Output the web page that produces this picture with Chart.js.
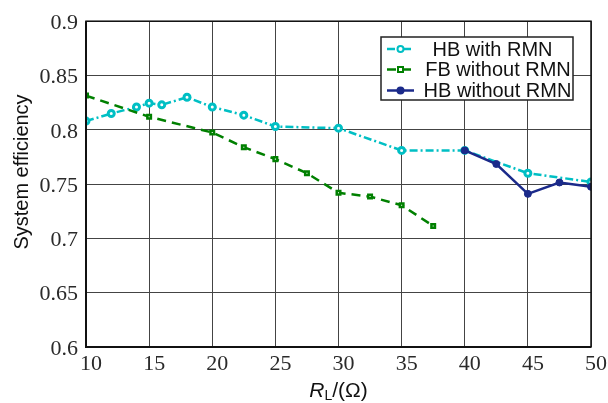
<!DOCTYPE html>
<html><head><meta charset="utf-8">
<script src="https://cdn.jsdelivr.net/npm/chart.js@4"></script>
<style>html,body{margin:0;padding:0;background:#fff}#wrap{width:608px;height:403px}</style>
</head><body><div id="wrap"><canvas id="c" width="608" height="403"></canvas></div>
<script>
const seriesNames = ['HB with RMN','FB without RMN','HB without RMN'];
const xCyan = [10,12,14,15,16,18,20,22.5,25,30,35,40,45,50];
const yCyan = [0.808,0.815,0.821,0.8245,0.823,0.830,0.821,0.8135,0.803,0.8015,0.781,0.781,0.760,0.752];
const xGreen = [10,15,20,22.5,25,27.5,30,32.5,35,37.5];
const yGreen = [0.8315,0.812,0.7975,0.784,0.773,0.760,0.742,0.7385,0.7305,0.7115];
const xBlue = [40,42.5,45,47.5,50];
const yBlue = [0.781,0.7685,0.741,0.7515,0.7475];
const xTicks = [10,15,20,25,30,35,40,45,50];
const yTicks = [0.6,0.65,0.7,0.75,0.8,0.85,0.9];
const yTitle = 'System efficiency';

const pts = (xs, ys) => xs.map((x,i)=>({x, y: ys[i]}));
const cCyan='#00BFC4', cGreen='#008000', cBlue='#1B2A8A';
const SANS='"Liberation Sans", Arial, sans-serif';

const extras = {
  id:'extras',
  afterDraw(chart){
    const ctx = chart.ctx, a = chart.chartArea;
    ctx.save();
    ctx.strokeStyle='#111'; ctx.lineWidth=1.5;
    ctx.strokeRect(a.left, a.top, a.right-a.left, a.bottom-a.top);
    ctx.lineWidth=2;
    ctx.beginPath(); ctx.moveTo(a.left,a.top); ctx.lineTo(a.left,a.bottom); ctx.lineTo(a.right,a.bottom); ctx.stroke();
    // y title
    ctx.fillStyle='#111';
    ctx.font='20px '+SANS;
    ctx.textAlign='center'; ctx.textBaseline='middle';
    ctx.translate(22,172);
    ctx.rotate(-Math.PI/2);
    ctx.fillText(yTitle,0,0);
    ctx.restore();
    // x title
    ctx.save();
    ctx.fillStyle='#111'; ctx.textBaseline='alphabetic';
    const cx=(a.left+a.right)/2, by=397;
    ctx.font='italic 21px '+SANS;
    const wR=ctx.measureText('R').width;
    ctx.font='14px '+SANS;
    const wL=ctx.measureText('L').width;
    ctx.font='21px '+SANS;
    const wRest=ctx.measureText('/(Ω)').width;
    let x0=cx-(wR+wL+wRest)/2;
    ctx.font='italic 21px '+SANS;
    ctx.textAlign='left';
    ctx.fillText('R',x0,by); x0+=wR;
    ctx.font='14px '+SANS;
    ctx.fillText('L',x0,by+3); x0+=wL;
    ctx.font='21px '+SANS;
    ctx.fillText('/(Ω)',x0,by);
    ctx.restore();
    // legend
    ctx.save();
    const L=381,T=37,R=573,B=100;
    ctx.fillStyle='#fff'; ctx.fillRect(L,T,R-L,B-T);
    ctx.strokeStyle='#222'; ctx.lineWidth=1.5; ctx.strokeRect(L,T,R-L,B-T);
    const rows=[49,69.5,90.5];
    const centers=[492.5,498,497.5];
    chart.data.datasets.forEach((ds,i)=>{
      const y=rows[i];
      ctx.strokeStyle=ds.borderColor; ctx.lineWidth=2.5;
      ctx.setLineDash(ds.borderDash||[]);
      ctx.beginPath(); ctx.moveTo(387,y); ctx.lineTo(414,y); ctx.stroke();
      ctx.setLineDash([]);
      ctx.fillStyle=ds.pointBackgroundColor; ctx.lineWidth=2;
      if(ds.pointStyle==='rect'){ctx.fillRect(398,y-2.5,5,5);ctx.strokeRect(398,y-2.5,5,5);}
      else{ctx.beginPath();ctx.arc(400.5,y,3,0,Math.PI*2);ctx.fill();ctx.stroke();}
      ctx.fillStyle='#111';
      ctx.font='20px '+SANS;
      ctx.textAlign='center'; ctx.textBaseline='middle';
      ctx.fillText(ds.label,centers[i],y+1);
    });
    ctx.restore();
  }
};

new Chart(document.getElementById('c'),{
  type:'line',
  data:{datasets:[
    {label:seriesNames[0],data:pts(xCyan,yCyan),borderColor:cCyan,backgroundColor:cCyan,borderWidth:2.5,borderDash:[8,3,2,3],
     pointStyle:'circle',pointRadius:3,pointBorderWidth:3,pointBackgroundColor:'#fff',pointBorderColor:cCyan,order:3,tension:0},
    {label:seriesNames[1],data:pts(xGreen,yGreen),borderColor:cGreen,backgroundColor:cGreen,borderWidth:2.5,borderDash:[9,6],
     pointStyle:'rect',pointRadius:2.5,pointBorderWidth:2.5,pointBackgroundColor:'#fff',pointBorderColor:cGreen,order:2,tension:0},
    {label:seriesNames[2],data:pts(xBlue,yBlue),borderColor:cBlue,backgroundColor:cBlue,borderWidth:2.5,
     pointStyle:'circle',pointRadius:3.5,pointBorderWidth:1,pointBackgroundColor:cBlue,pointBorderColor:cBlue,order:1,tension:0}
  ]},
  options:{
    responsive:false,animation:false,
    layout:{padding:{left:0,right:17,top:20,bottom:0}},
    plugins:{legend:{display:false},tooltip:{enabled:false}},
    scales:{
      x:{type:'linear',min:10,max:50,
        afterBuildTicks(s){s.ticks=xTicks.map(v=>({value:v}));},
        afterFit(s){s.height=56;},
        grid:{color:'#444',lineWidth:1,drawTicks:false},
        border:{display:false},
        ticks:{padding:4,labelOffset:5,color:'#2a2a2a',font:{family:'"Liberation Serif", serif',size:22},callback:v=>String(v),maxRotation:0,autoSkip:false}},
      y:{type:'linear',min:0.6,max:0.9,
        afterBuildTicks(s){s.ticks=yTicks.map(v=>({value:v}));},
        afterFit(s){s.width=86;},
        grid:{color:'#444',lineWidth:1,drawTicks:false},
        border:{display:false},
        ticks:{padding:8,labelOffset:2,color:'#2a2a2a',font:{family:'"Liberation Serif", serif',size:22},callback:v=>String(+v.toFixed(2)),autoSkip:false}}
    }
  },
  plugins:[extras]
});
</script></body></html>
